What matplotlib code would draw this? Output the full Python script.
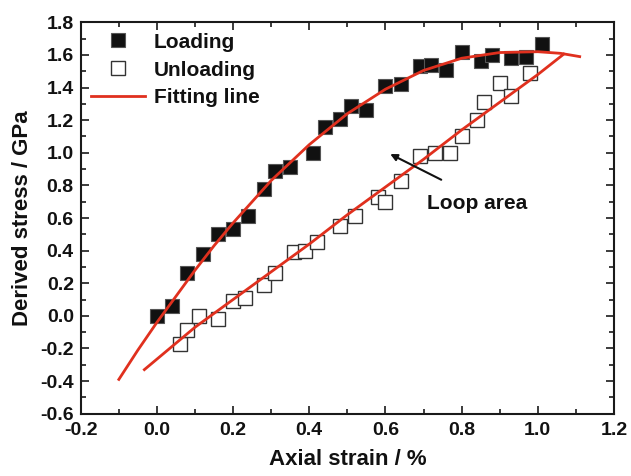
import matplotlib
matplotlib.use("Agg")
import matplotlib.pyplot as plt
from matplotlib.ticker import MultipleLocator, FormatStrFormatter

plt.rcParams['font.family'] = ['Liberation Sans', 'DejaVu Sans']
plt.rcParams['font.weight'] = 'bold'
plt.rcParams['axes.unicode_minus'] = False

# loading points (filled squares)
load_x = [0.0, 0.04, 0.08, 0.12, 0.16, 0.20, 0.24, 0.28, 0.31, 0.35, 0.41, 0.44,
          0.48, 0.51, 0.55, 0.60, 0.64, 0.69, 0.72, 0.76, 0.80, 0.85, 0.88, 0.93,
          0.97, 1.01]
load_y = [0.0, 0.06, 0.26, 0.38, 0.50, 0.53, 0.61, 0.78, 0.89, 0.91, 1.00, 1.16,
          1.21, 1.29, 1.26, 1.41, 1.42, 1.53, 1.54, 1.51, 1.62, 1.56, 1.60, 1.58,
          1.59, 1.67]

# unloading points (open squares)
unload_x = [0.06, 0.08, 0.11, 0.16, 0.20, 0.23, 0.28, 0.31, 0.36, 0.39, 0.42,
            0.48, 0.52, 0.58, 0.60, 0.64, 0.69, 0.73, 0.77, 0.80, 0.84, 0.86,
            0.90, 0.93, 0.98]
unload_y = [-0.17, -0.09, 0.0, -0.02, 0.09, 0.11, 0.19, 0.26, 0.39, 0.40, 0.45,
            0.55, 0.61, 0.73, 0.70, 0.83, 0.98, 1.00, 1.00, 1.10, 1.20, 1.31,
            1.43, 1.35, 1.49]

# fitting lines
fit_load_x = [-0.10, -0.05, 0.0, 0.05, 0.1, 0.15, 0.2, 0.3, 0.4, 0.5, 0.6, 0.7, 0.8, 0.9, 1.0, 1.06, 1.11]
fit_load_y = [-0.39, -0.21, -0.04, 0.12, 0.28, 0.43, 0.57, 0.83, 1.05, 1.24, 1.39, 1.505, 1.58, 1.615, 1.62, 1.61, 1.59]
fit_unload_x = [-0.033, 0.1, 0.2, 0.3, 0.4, 0.5, 0.6, 0.7, 0.8, 0.9, 1.0, 1.068]
fit_unload_y = [-0.33, -0.07, 0.10, 0.27, 0.44, 0.62, 0.79, 0.96, 1.14, 1.31, 1.48, 1.605]

red = '#e0301e'

fig = plt.figure(figsize=(6.31, 4.76), dpi=100)
ax = fig.add_axes([0.128, 0.131, 0.845, 0.822])

ax.plot(load_x, load_y, 's', color='#111111', markersize=10.5,
        markeredgecolor='#555555', markeredgewidth=0.8, label='Loading', zorder=2)
ax.plot(unload_x, unload_y, 's', markerfacecolor='white', markersize=10.5,
        markeredgecolor='#333333', markeredgewidth=1.0, label='Unloading', zorder=2)
ax.plot(fit_load_x, fit_load_y, '-', color=red, lw=2.0, label='Fitting line', zorder=3)
ax.plot(fit_unload_x, fit_unload_y, '-', color=red, lw=2.0, zorder=3)

ax.annotate('', xy=(0.606, 1.0), xytext=(0.753, 0.827),
            arrowprops=dict(arrowstyle='-|>', color='#111111', lw=1.5,
                            mutation_scale=10))
ax.text(0.842, 0.686, 'Loop area', fontsize=15, fontweight='bold',
        ha='center', va='center', color='#111111')

ax.set_xlim(-0.2, 1.2)
ax.set_ylim(-0.6, 1.8)
ax.xaxis.set_major_locator(MultipleLocator(0.2))
ax.xaxis.set_minor_locator(MultipleLocator(0.1))
ax.yaxis.set_major_locator(MultipleLocator(0.2))
ax.yaxis.set_minor_locator(MultipleLocator(0.1))
ax.xaxis.set_major_formatter(FormatStrFormatter('%.1f'))
ax.yaxis.set_major_formatter(FormatStrFormatter('%.1f'))
ax.tick_params(which='both', direction='in', top=True, right=True,
               labelsize=14, width=1.2, color='#1a1a1a', labelcolor='#111111')
ax.tick_params(which='major', length=6, pad=6)
ax.tick_params(which='minor', length=3.5)
ax.tick_params(axis='y', which='major', pad=5)
for s in ax.spines.values():
    s.set_linewidth(1.5)
    s.set_color('#1a1a1a')

ax.set_xlabel('Axial strain / %', fontsize=16, fontweight='bold', color='#111111', labelpad=7)
ax.set_ylabel('Derived stress / GPa', fontsize=16, fontweight='bold', color='#111111', labelpad=5)

leg = ax.legend(loc='upper left', frameon=False, fontsize=15, numpoints=1,
                handlelength=2.6, handletextpad=0.4, labelspacing=0.42,
                borderaxespad=0.35, borderpad=0.15)
for t in leg.get_texts():
    t.set_fontweight('bold')
    t.set_color('#111111')

fig.savefig('out.png', dpi=100)
